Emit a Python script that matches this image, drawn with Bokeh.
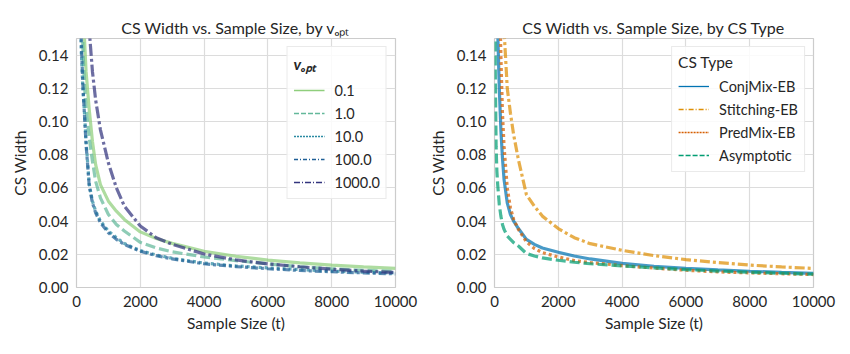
from bokeh.plotting import figure
from bokeh.models import Range1d, FixedTicker, Legend, LegendItem, NumeralTickFormatter
from bokeh.layouts import row
from bokeh.embed import file_html
from bokeh.resources import INLINE

# ---------------- data ----------------
t = [10, 25, 50, 75, 100, 150, 200, 250, 300, 400, 500, 600, 750, 1000, 1250, 1500,
     2000, 2500, 3000, 4000, 5000, 6000, 7000, 8000, 9000, 10000]

# left panel: CS width by v_opt
v_labels = ["0.1", "1.0", "10.0", "100.0", "1000.0"]
w_v01 = [None, None, None, None, None, None, 0.180, 0.150, 0.130, 0.107, 0.088, 0.074, 0.062, 0.052,
         0.046, 0.041, 0.0335, 0.0295, 0.0266, 0.0218, 0.0188, 0.0165, 0.0148, 0.0135, 0.0124, 0.0115]
w_v1 = [None, None, None, None, None, 0.190, 0.145, 0.122, 0.108, 0.090, 0.076, 0.064, 0.054, 0.044,
        0.038, 0.034, 0.0272, 0.0238, 0.0215, 0.0184, 0.0162, 0.0142, 0.0125, 0.0113, 0.0104, 0.0097]
w_v10 = [None, None, None, None, 0.200, 0.142, 0.120, 0.105, 0.088, 0.062, 0.052, 0.046, 0.040, 0.034,
         0.030, 0.0265, 0.0222, 0.0196, 0.0176, 0.0147, 0.0130, 0.0118, 0.0108, 0.0099, 0.0092, 0.0087]
w_v100 = [None, None, None, None, 0.210, 0.148, 0.122, 0.104, 0.086, 0.061, 0.051, 0.045, 0.039, 0.033,
          0.029, 0.026, 0.0218, 0.0192, 0.0172, 0.0143, 0.0126, 0.0113, 0.0103, 0.0095, 0.0088, 0.0082]
w_v1000 = [None, None, None, None, None, None, None, None, 0.210, 0.155, 0.130, 0.113, 0.095, 0.075,
           0.060, 0.049, 0.0370, 0.0300, 0.0260, 0.0202, 0.0166, 0.0142, 0.0125, 0.0110, 0.0099, 0.0090]

# right panel: CS width by CS type
cs_labels = ["ConjMix-EB", "Stitching-EB", "PredMix-EB", "Asymptotic"]
w_conjmix = [None, None, None, None, 0.155, 0.120, 0.095, 0.078, 0.065, 0.051, 0.044, 0.040, 0.0355,
             0.029, 0.026, 0.0238, 0.0212, 0.0190, 0.0172, 0.0145, 0.0128, 0.0115, 0.0106, 0.0098, 0.0091, 0.0085]
w_stitch = [None, None, None, None, None, None, None, 0.190, 0.155, 0.120, 0.105, 0.092, 0.077, 0.056,
            0.049, 0.043, 0.0355, 0.0300, 0.0264, 0.0224, 0.0192, 0.0168, 0.0150, 0.0135, 0.0124, 0.0115]
w_predmix = [None, None, None, None, None, 0.190, 0.140, 0.105, 0.085, 0.060, 0.048, 0.041, 0.035, 0.0275,
             0.0235, 0.0210, 0.0184, 0.0162, 0.0150, 0.0132, 0.0117, 0.0104, 0.0094, 0.0088, 0.0083, 0.0078]
w_asym = [0.300, 0.130, 0.085, 0.070, 0.062, 0.050, 0.043, 0.038, 0.035, 0.031, 0.029, 0.027, 0.025,
          0.0205, 0.0190, 0.0178, 0.0164, 0.0152, 0.0143, 0.0130, 0.0118, 0.0108, 0.0099, 0.0092, 0.0086, 0.0080]

x_ticks = [0, 2000, 4000, 6000, 8000, 10000]
y_ticks = [0.0, 0.02, 0.04, 0.06, 0.08, 0.10, 0.12, 0.14]

# ---------------- styling ----------------
FONT = "Lato"
TXT = "#262626"
GRID = "#dcdcdc"


def clean(xs, ys):
    px, py = [], []
    for a, b in zip(xs, ys):
        if b is not None:
            px.append(a)
            py.append(b)
    return px, py


def make_fig(title, bl, br):
    p = figure(width=bl + 319 + br, height=338, output_backend="svg", toolbar_location=None,
               x_range=Range1d(0, 10000), y_range=Range1d(0, 0.15),
               min_border_left=bl, min_border_right=br, min_border_top=38, min_border_bottom=51,
               frame_width=319, frame_height=249)
    p.title.text = title
    p.title.align = "center"
    p.title.text_font = FONT
    p.title.text_font_size = "16px"
    p.title.text_font_style = "normal"
    p.title.text_color = TXT
    p.title.standoff = 4
    p.outline_line_color = "#cccccc"
    p.outline_line_width = 1.2
    p.background_fill_color = "white"
    p.border_fill_color = "white"
    for ax in (p.xaxis[0], p.yaxis[0]):
        ax.axis_line_color = None
        ax.major_tick_line_color = None
        ax.minor_tick_line_color = None
        ax.major_tick_out = 0
        ax.major_tick_in = 0
        ax.major_label_text_font = FONT
        ax.major_label_text_font_size = "15px"
        ax.major_label_text_color = TXT
        ax.axis_label_text_font = FONT
        ax.axis_label_text_font_size = "15.5px"
        ax.axis_label_text_font_style = "normal"
        ax.axis_label_text_color = TXT
        ax.major_label_standoff = 8
    p.xaxis[0].ticker = FixedTicker(ticks=x_ticks)
    p.yaxis[0].ticker = FixedTicker(ticks=y_ticks)
    p.yaxis[0].formatter = NumeralTickFormatter(format="0.00")
    p.xaxis[0].axis_label = "Sample Size (t)"
    p.yaxis[0].axis_label = "CS Width"
    p.xaxis[0].axis_label_standoff = 4
    p.yaxis[0].axis_label_standoff = 7
    p.xgrid.grid_line_color = GRID
    p.ygrid.grid_line_color = GRID
    p.xgrid.grid_line_width = 1.2
    p.ygrid.grid_line_width = 1.2
    return p


def add_series(p, ys_list, labels, colors, dashes, legend_dashes, title, title_style):
    items = []
    for ys, lab, col, d, ld in zip(ys_list, labels, colors, dashes, legend_dashes):
        xs, yy = clean(t, ys)
        p.line(xs, yy, line_color=col, line_width=3.2, line_alpha=0.72, line_dash=d)
        # legend-only proxy: one row with no drawable y, so only its legend glyph shows
        dummy = p.line([xs[0]], [float("nan")], line_color=col, line_width=1.3, line_dash=ld)
        items.append(LegendItem(label=lab, renderers=[dummy]))
    leg = Legend(items=items, location="top_right", title=title)
    leg.title_text_font = FONT
    leg.title_text_font_size = "15.5px"
    leg.title_text_font_style = title_style
    leg.title_text_color = TXT
    leg.title_standoff = 5
    leg.label_text_font = FONT
    leg.label_text_font_size = "14.5px"
    leg.label_text_color = TXT
    leg.label_standoff = 10
    leg.glyph_width = 31
    leg.glyph_height = 20
    leg.label_height = 20
    leg.spacing = 3
    leg.padding = 6
    leg.margin = 8
    leg.border_line_color = "#d5d5d5"
    leg.border_line_width = 1
    leg.background_fill_alpha = 0.85
    p.add_layout(leg)


p1 = make_fig("CS Width vs. Sample Size, by vₒₚₜ", 76, 30)
add_series(p1, [w_v01, w_v1, w_v10, w_v100, w_v1000], v_labels,
           ["#8fce7c", "#63b89a", "#2a8aa2", "#1f5f96", "#33347e"],
           ["solid", "10 4", "3 3", "7 3 3 3", "12 3 3 3"],
           ["solid", "5 2", "2 1", "4 2 1 2", "6 2 1 2"],
           "vₒₚₜ", "bold italic")

p2 = make_fig("CS Width vs. Sample Size, by CS Type", 67, 31)
add_series(p2, [w_conjmix, w_stitch, w_predmix, w_asym], cs_labels,
           ["#0173b2", "#de8f05", "#d55e00", "#029e73"],
           ["solid", "10 3 3 3", "3 3", "10 4"],
           ["solid", "5 2 1 2", "2 1", "5 2"],
           "CS Type", "normal")

layout = row(p1, p2, spacing=0)
open("out.html", "w").write(file_html(layout, INLINE))
